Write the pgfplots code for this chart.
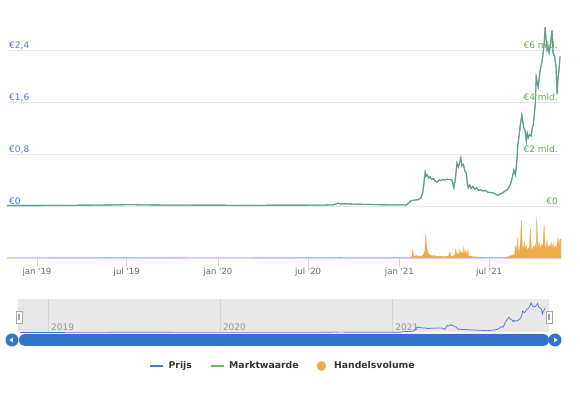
\documentclass[border=0pt]{standalone}
\usepackage{fontspec}
\setmainfont{DejaVu Sans}
\usepackage{pgfplots}
\pgfplotsset{compat=1.18}
\usepackage{pgfplotstable}
\definecolor{pblue}{RGB}{72,118,214}
\definecolor{mgreen}{RGB}{108,184,92}
\definecolor{vorange}{RGB}{238,172,72}
\definecolor{lblblue}{RGB}{78,118,210}
\definecolor{lblgreen}{RGB}{98,170,72}
\definecolor{gridc}{RGB}{230,230,230}
\definecolor{axc}{RGB}{204,214,235}
\definecolor{navbg}{RGB}{232,232,232}
\definecolor{navgrid}{RGB}{212,212,212}
\definecolor{navtext}{RGB}{150,150,150}
\definecolor{sbblue}{RGB}{53,114,204}
\definecolor{txtgray}{RGB}{102,102,102}
\definecolor{legtext}{RGB}{51,51,51}

\pgfplotsset{
  linelegend/.style={legend image code/.code={\draw[##1] (0pt,0pt) -- (13pt,0pt); \path (16pt,0pt);}},
  dotlegend/.style={legend image code/.code={\fill[##1] (4.5pt,0pt) circle (4.5pt); \path (15pt,0pt);}}
}

\pgfplotstableread{
d p m
-60 0.008 0.020
-40 0.007 0.0175
-20 0.008 0.020
0 0.008 0.020
30 0.009 0.0225
60 0.010 0.025
90 0.011 0.0275
120 0.013 0.0325
150 0.016 0.040
175 0.020 0.050
190 0.022 0.055
210 0.018 0.045
240 0.015 0.0375
280 0.013 0.0325
320 0.012 0.030
365 0.011 0.0275
420 0.010 0.025
480 0.011 0.0275
540 0.012 0.030
580 0.014 0.035
600 0.020 0.050
607 0.045 0.1125
612 0.030 0.075
620 0.035 0.0875
635 0.030 0.075
660 0.025 0.0625
690 0.020 0.050
720 0.017 0.0425
745 0.016 0.040
750 0.045 0.1125
754 0.080 0.200
760 0.090 0.225
768 0.095 0.2375
774 0.120 0.300
778 0.200 0.500
781 0.380 0.950
783 0.520 1.300
785 0.460 1.150
787 0.480 1.200
790 0.430 1.075
793 0.450 1.125
796 0.410 1.025
800 0.420 1.050
804 0.380 0.950
807 0.370 0.925
811 0.400 1.000
815 0.390 0.975
819 0.410 1.025
823 0.400 1.000
827 0.415 1.0375
831 0.405 1.0125
835 0.410 1.025
838 0.380 0.950
841 0.280 0.700
844 0.420 1.050
847 0.660 1.650
850 0.600 1.500
853 0.680 1.700
855 0.740 1.850
857 0.620 1.550
860 0.640 1.600
863 0.540 1.350
866 0.510 1.275
868 0.350 0.875
870 0.280 0.700
873 0.320 0.800
876 0.270 0.675
879 0.300 0.750
883 0.260 0.650
887 0.280 0.700
891 0.240 0.600
895 0.250 0.625
900 0.230 0.575
905 0.240 0.600
910 0.210 0.525
916 0.205 0.5125
921 0.200 0.500
926 0.180 0.450
930 0.160 0.400
934 0.185 0.4625
939 0.200 0.500
944 0.230 0.575
949 0.250 0.625
953 0.300 0.750
956 0.360 0.900
959 0.450 1.125
962 0.550 1.375
965 0.480 1.200
968 0.700 1.750
970 0.950 2.375
972 1.050 2.625
975 1.250 3.125
978 1.400 3.500
980 1.300 3.250
982 1.200 3.000
985 1.150 2.875
987 1.000 2.500
989 1.120 2.800
991 1.050 2.625
994 1.100 2.750
997 1.080 2.700
999 1.200 3.000
1001 1.250 3.125
1003 1.400 3.500
1005 1.550 3.875
1007 1.980 4.950
1009 1.900 4.750
1011 1.830 4.575
1013 1.950 4.875
1015 2.090 5.225
1018 2.200 5.500
1021 2.350 5.875
1023 2.500 6.250
1025 2.750 6.875
1027 2.550 6.375
1029 2.400 6.000
1031 2.450 6.125
1033 2.360 5.900
1036 2.500 6.250
1039 2.700 6.750
1041 2.350 5.875
1044 2.300 5.750
1047 2.140 5.350
1049 1.720 4.300
1051 1.980 4.950
1053 2.100 5.250
1055 2.300 5.750
}\pricedata

\pgfplotstableread{
d v
-60 0.3
100 0.4
180 0.8
200 0.4
400 0.3
600 0.6
610 1.0
620 0.5
740 0.4
750 0.5
756 1.0
758 8
760 1.5
765 2.5
770 1.5
773 2
776 1.5
779 3
781 6
782 3
784 24
786 11
788 6
790 4
793 3
797 2
801 2.5
806 1.5
812 2
818 1.5
825 1.5
830 2
833 6
835 1.5
840 2
843 3
845 9
847 3
849 5
851 2.5
853 9
855 4
857 6
859 3
861 11
863 4
865 7
867 2.5
869 8
871 2
874 2
880 1.2
888 1
900 0.8
915 0.6
930 0.5
945 0.6
952 1.5
955 2.5
958 2
961 3.5
963 2
965 12
967 5
969 20
971 8
973 6
975 16
977 38
979 12
981 9
983 16
985 8
987 13
989 7
991 10
993 8
995 30
997 10
999 7
1001 12
1003 9
1005 14
1007 8
1008 41
1010 18
1012 9
1014 15
1016 8
1018 14
1020 10
1023 33
1025 11
1027 9
1029 18
1031 8
1033 13
1035 10
1037 16
1039 9
1041 15
1043 8
1045 12
1047 10
1049 14
1051 20
1053 11
1055 19
1057 19
}\voldata

\begin{document}
\begin{tikzpicture}[x=1pt,y=1pt]
\path[use as bounding box] (0,0) rectangle (580,393);

% price axis (left)
\begin{axis}[at={(7pt,187pt)}, anchor=south west, scale only axis,
  width=554pt, height=182pt,
  xmin=-60.5, xmax=1057, ymin=0, ymax=2.8,
  axis line style={draw=none}, xtick=\empty,
  ytick={0,0.8,1.6,2.4}, yticklabels={{€0},{€0,8},{€1,6},{€2,4}},
  ymajorgrids, grid style={gridc, line width=0.8pt}, major tick length=0pt,
  yticklabel style={anchor=base west, inner sep=0pt, xshift=2pt, yshift=1.5pt,
    text=lblblue, font=\fontsize{9}{10}\selectfont},
  clip=false]
\addplot[pblue, line width=1.1pt] table[x=d,y=p]{\pricedata};
\end{axis}

% market cap axis (right)
\begin{axis}[at={(7pt,187pt)}, anchor=south west, scale only axis,
  width=554pt, height=182pt,
  xmin=-60.5, xmax=1057, ymin=0, ymax=7,
  axis y line*=right, hide x axis, y axis line style={draw=none},
  ytick={0,2,4,6}, yticklabels={{€0},{€2 mld.},{€4 mld.},{€6 mld.}},
  major tick length=0pt,
  yticklabel style={anchor=base east, inner sep=0pt, xshift=-3pt, yshift=1.5pt,
    text=lblgreen, font=\fontsize{9}{10}\selectfont},
  clip=false]
\addplot[mgreen, opacity=0.65, line width=1.1pt] table[x=d,y=m]{\pricedata};
\end{axis}

% volume axis
\begin{axis}[at={(7pt,135pt)}, anchor=south west, scale only axis,
  width=554pt, height=45pt,
  xmin=-60.5, xmax=1057, ymin=0, ymax=45,
  axis x line*=bottom, axis y line=none,
  x axis line style={axc, line width=0.8pt, -},
  xtick={0,181,365,547,731,912},
  xticklabels={{jan \textquotesingle19},{jul \textquotesingle19},{jan \textquotesingle20},{jul \textquotesingle20},{jan \textquotesingle21},{jul \textquotesingle21}},
  tick align=outside, major tick length=9pt,
  x tick style={axc, line width=0.8pt},
  xticklabel style={font=\fontsize{8.5}{10}\selectfont, text=txtgray, anchor=base, inner sep=0pt, yshift=-8pt},
  legend style={at={(0.4982,-2.4)}, anchor=center, draw=none, fill=none,
    legend columns=3, font=\bfseries\fontsize{9.3}{11}\selectfont, text=legtext,
    /tikz/every even column/.append style={column sep=16pt}},
  legend cell align=left]
\addlegendimage{pblue, line width=1.3pt, linelegend}
\addlegendentry{Prijs}
\addlegendimage{mgreen, line width=1.3pt, linelegend}
\addlegendentry{Marktwaarde}
\addlegendimage{vorange, dotlegend}
\addlegendentry{Handelsvolume}
\addplot[fill=vorange, draw=vorange, line width=0.3pt, forget plot] table[x=d,y=v]{\voldata} \closedcycle;
\end{axis}

% navigator
\begin{axis}[at={(18.3pt,60.5pt)}, anchor=south west, scale only axis,
  width=530.7pt, height=33.5pt,
  xmin=-64, xmax=1063, ymin=0, ymax=3.1,
  axis background/.style={fill=navbg},
  axis line style={draw=none}, ytick=\empty,
  xtick={0,365,731}, xticklabels={2019,2020,2021},
  xmajorgrids, grid style={navgrid, line width=0.7pt}, major tick length=0pt,
  xticklabel style={anchor=base west, inner sep=0pt, xshift=2.5pt, yshift=2pt,
    text=navtext, font=\fontsize{9}{10}\selectfont}]
\addplot[pblue, line width=0.7pt] table[x=d,y=p]{\pricedata};
\end{axis}

% handles
\draw[gray!70, fill=white, line width=0.6pt] (16,70) rectangle (22,82);
\draw[gray!70, line width=0.5pt] (18.3,73) -- (18.3,79) (19.7,73) -- (19.7,79);
\draw[gray!70, fill=white, line width=0.6pt] (546,70) rectangle (552,82);
\draw[gray!70, line width=0.5pt] (548.3,73) -- (548.3,79) (549.7,73) -- (549.7,79);

% scrollbar
\fill[sbblue, rounded corners=6pt] (19,47) rectangle (549,59);
\fill[sbblue] (12,53) circle (6.5);
\fill[sbblue] (555,53) circle (6.5);
\fill[white] (9.5,53) -- (12.8,55.3) -- (12.8,50.7) -- cycle;
\fill[white] (557.5,53) -- (554.2,55.3) -- (554.2,50.7) -- cycle;
\end{tikzpicture}
\end{document}
